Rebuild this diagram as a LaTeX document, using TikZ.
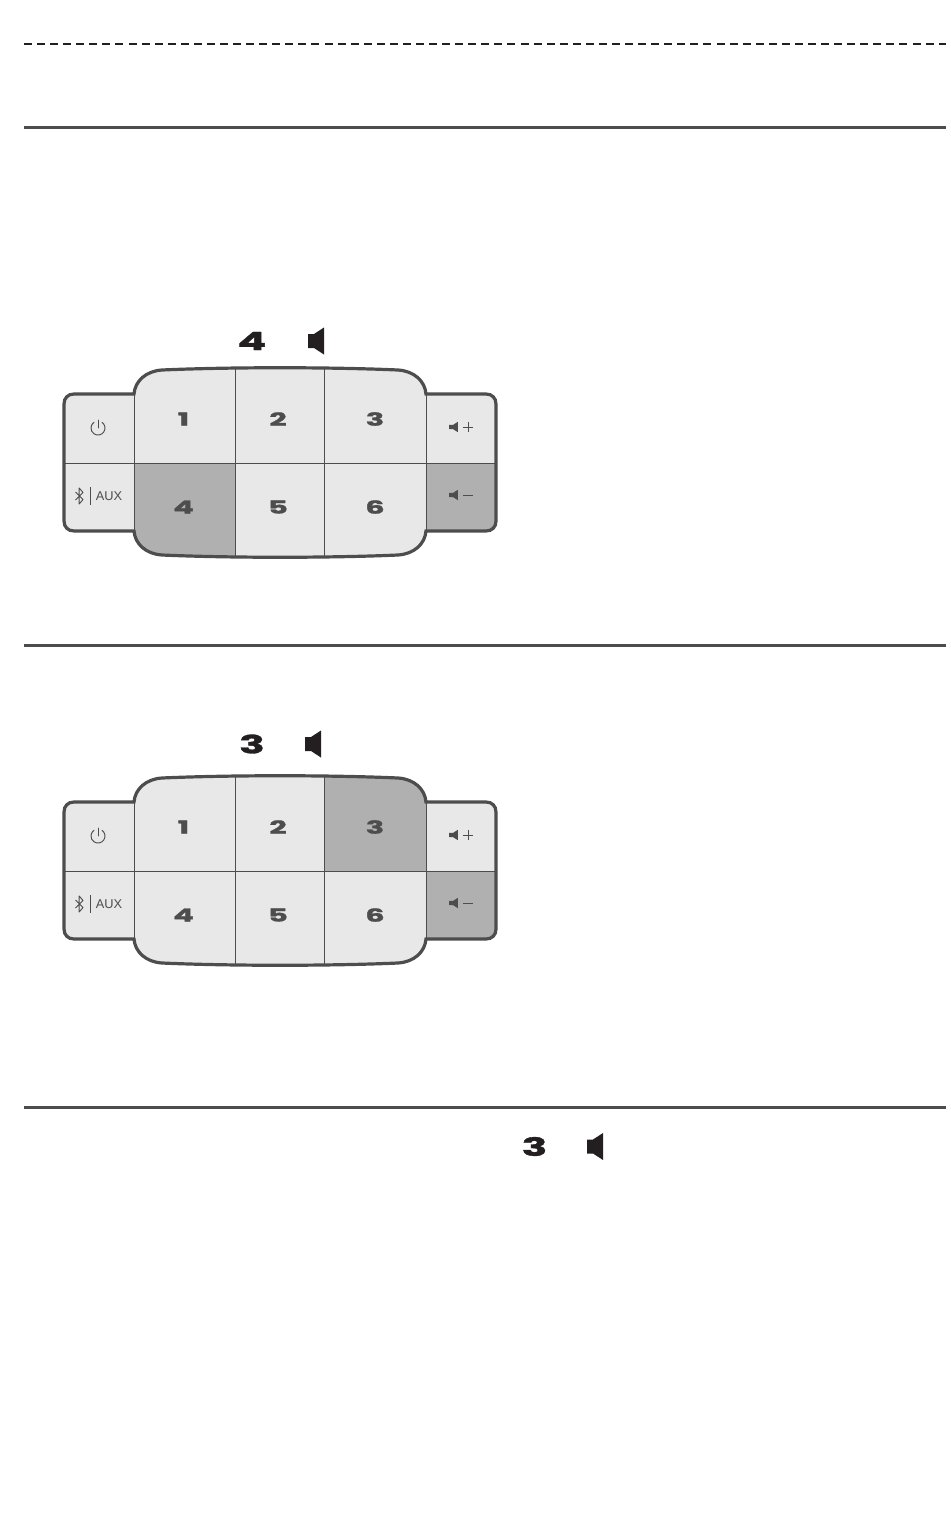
\documentclass[tikz,border=0pt]{standalone}
\usepackage{fontspec}
\setmainfont{Liberation Sans}
\newfontfamily\digfont{Poppins}[BoldFeatures={FakeBold=1.2}]
\definecolor{ink}{HTML}{231F20}
\definecolor{frame}{HTML}{4D4D4D}
\definecolor{keyfill}{HTML}{E8E8E8}
\definecolor{keyon}{HTML}{B0B0B0}
\tikzset{
  x=0.75pt,y=-0.75pt,
  rulebar/.style={draw=frame,line width=2.25pt},
  dashbar/.style={draw=ink,line width=1.2pt,dash pattern=on 6pt off 3.8pt},
  keydigit/.style={inner sep=0pt,text=frame,font=\digfont\bfseries\fontsize{16.5}{16.5}\selectfont},
  headdigit/.style={inner sep=0pt,text=ink,font=\digfont\bfseries\fontsize{23}{23}\selectfont},
  keyline/.style={draw=frame,line width=0.75pt},
  iconline/.style={draw=frame,line width=0.7pt},
  auxlabel/.style={inner sep=0pt,text=frame,font=\fontsize{9.6}{10}\selectfont},
}
\newcommand{\dg}[1]{\scalebox{1.38}[0.82]{#1}}
\newcommand{\spk}[3]{% x, y, half-height
  \fill[frame] (#1-0.85*#3,#2-0.4*#3) -- (#1-0.1*#3,#2-0.4*#3) -- (#1+0.85*#3,#2-#3)
     -- (#1+0.85*#3,#2+#3) -- (#1-0.1*#3,#2+0.4*#3) -- (#1-0.85*#3,#2+0.4*#3) -- cycle;}
\newcommand{\bigspk}[2]{%
  \fill[ink] (#1-8,#2-7) -- (#1-2,#2-7) -- (#1+8,#2-13.5)
     -- (#1+8,#2+13.5) -- (#1-2,#2+7) -- (#1-8,#2+7) -- cycle;}
\newcommand{\outlinepath}{
  (74,394) -- (134,394)
  .. controls (135,381) and (146,371) .. (162,370)
  .. controls (230,367) and (330,367) .. (398,370)
  .. controls (414,371) and (425,381) .. (426,394)
  -- (486,394) .. controls (492,394) and (496,398) .. (496,404)
  -- (496,521) .. controls (496,527) and (492,531) .. (486,531)
  -- (426,531)
  .. controls (425,544) and (414,554) .. (398,555)
  .. controls (330,558) and (230,558) .. (162,555)
  .. controls (146,554) and (135,544) .. (134,531)
  -- (74,531) .. controls (68,531) and (64,527) .. (64,521)
  -- (64,404) .. controls (64,398) and (68,394) .. (74,394) -- cycle}
\newcommand{\keypad}[3]{% prefix, y shift, highlighted rectangles
  \begin{scope}[shift={(0,#2)}]
    \begin{scope}
      \clip \outlinepath;
      \fill[keyfill] (60,360) rectangle (500,560);
      \fill[keyon] #3;
    \end{scope}
    \coordinate (#1sl) at (64,463);
    \coordinate (#1sr) at (496,463);
    \coordinate (#1la) at (134,394);
    \coordinate (#1lb) at (134,531);
    \coordinate (#1ra) at (426,394);
    \coordinate (#1rb) at (426,531);
    \coordinate (#1ma) at (235.5,368);
    \coordinate (#1mb) at (235.5,557);
    \coordinate (#1na) at (324.5,368);
    \coordinate (#1nb) at (324.5,557);
    \draw[keyline] (#1sl) -- (#1sr);
    \draw[keyline] (#1la) -- (#1lb);
    \draw[keyline] (#1ra) -- (#1rb);
    \draw[keyline] (#1ma) -- (#1mb);
    \draw[keyline] (#1na) -- (#1nb);
    \draw[draw=frame,line width=2.4pt] \outlinepath;
    \node[keydigit] (#1k1) at (183.5,419) {\dg{1}};
    \node[keydigit] (#1k2) at (278,419) {\dg{2}};
    \node[keydigit] (#1k3) at (375,419) {\dg{3}};
    \node[keydigit] (#1k4) at (183.5,507) {\dg{4}};
    \node[keydigit] (#1k5) at (278,507) {\dg{5}};
    \node[keydigit] (#1k6) at (375,507) {\dg{6}};
    % power icon
    \draw[iconline,line cap=round] (102,422.3) arc[start angle=305,end angle=595,radius=7];
    \draw[iconline,line cap=round] (98,420) -- (98,428);
    % bluetooth and AUX
    \draw[iconline,line join=round] (75.5,492) -- (83,499.5) -- (79.2,504) -- (79.2,488) -- (83,492.5) -- (75.5,500);
    \draw[iconline] (90,487) -- (90,505);
    \node[auxlabel] (#1aux) at (109,496) {AUX};
    % volume keys
    \spk{453.5}{427}{5.2}
    \draw[iconline] (463,427) -- (473,427);
    \draw[iconline] (468,422) -- (468,432);
    \spk{453.5}{495}{5.2}
    \draw[iconline] (463,495) -- (473,495);
  \end{scope}
}
\begin{document}
\begin{tikzpicture}
\useasboundingbox (0,0) rectangle (950,1538);
\coordinate (d0) at (24,44);  \coordinate (d1) at (946,44);
\coordinate (r0) at (24,127.5);  \coordinate (r1) at (946,127.5);
\coordinate (s0) at (24,645.5);  \coordinate (s1) at (946,645.5);
\coordinate (t0) at (24,1107.5); \coordinate (t1) at (946,1107.5);
\draw[dashbar] (d0) -- (d1);
\draw[rulebar] (r0) -- (r1);
\draw[rulebar] (s0) -- (s1);
\draw[rulebar] (t0) -- (t1);

\node[headdigit] (h4) at (252,341) {\dg{4}};
\bigspk{316}{341}
\keypad{a}{0}{(134,463) rectangle (235.5,560) (426,463) rectangle (500,535)}

\node[headdigit] (h3) at (252,744) {\dg{3}};
\bigspk{313}{744}
\keypad{b}{408}{(324.5,360) rectangle (426,463) (426,463) rectangle (500,535)}

\node[headdigit] (h3b) at (534.5,1146.5) {\dg{3}};
\bigspk{595}{1146.5}
\end{tikzpicture}
\end{document}
